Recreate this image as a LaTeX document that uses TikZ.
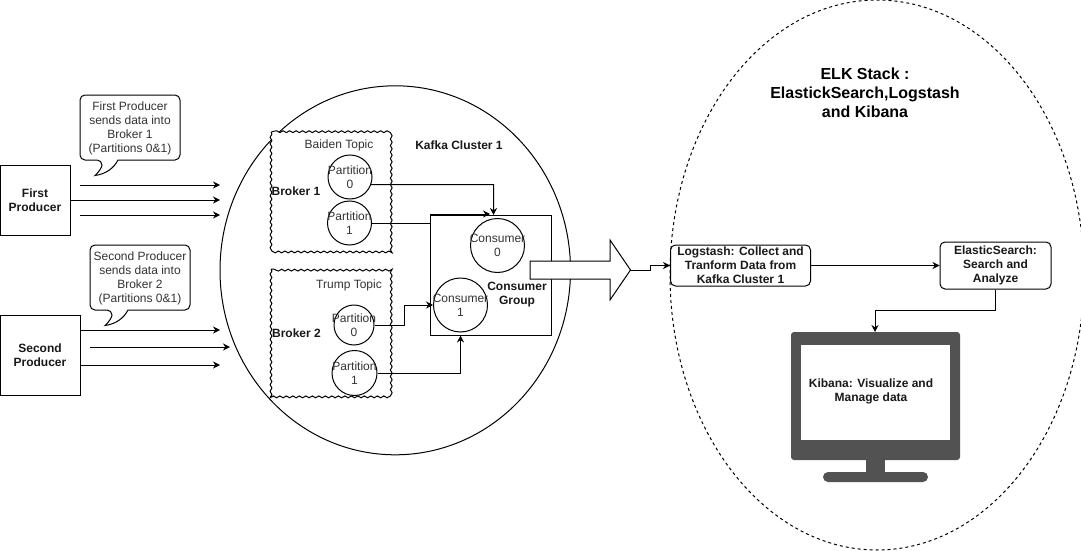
\documentclass[tikz,border=0pt]{standalone}
\usepackage{fontspec}
\setmainfont{Liberation Sans}
\usetikzlibrary{arrows.meta,decorations.pathmorphing,shapes.geometric}

\tikzset{
    >={Stealth[length=7pt,width=7pt]},
    lbl/.style={font=\fontsize{12}{14}\selectfont, align=center, text=black!80},
    boldlbl/.style={lbl, font=\fontsize{12}{14}\selectfont\bfseries, text=black!90},
    prodbox/.style={draw, line width=1pt, fill=white, boldlbl},
    stackbox/.style={draw, line width=1pt, fill=white, rounded corners=5pt, boldlbl},
    brokerbox/.style={draw, line width=1pt, fill=white, decorate, decoration={snake, amplitude=0.9pt, segment length=6.5pt}},
    partcircle/.style={draw, circle, line width=1pt, inner sep=0pt, fill=white},
    wire/.style={->, line width=1pt},
    talkshape/.style={draw, line width=1pt, fill=white},
}

\begin{document}
\begin{tikzpicture}[x=1pt, y=-1pt]
    \useasboundingbox[fill=white] (0,0) rectangle (1081,551);

    % Kafka cluster and ELK outlines
    \node[draw, ellipse, line width=1pt, minimum width=350.5pt, minimum height=369pt, inner sep=0pt] (cluster) at (395.25,270.3) {};
    \node[draw, ellipse, line width=1pt, dash pattern=on 3pt off 3pt, minimum width=414pt, minimum height=550pt, inner sep=0pt] (elk) at (877,275) {};
    \node[boldlbl] (clustertext) at (459,145.5) {Kafka Cluster 1};
    \node[boldlbl, font=\fontsize{16}{19}\selectfont\bfseries, text=black] (elktext) at (865,92.5) {ELK Stack :\\ElastickSearch,Logstash\\and Kibana};

    % Producers
    \node[prodbox, minimum width=70pt, minimum height=70pt, inner sep=0pt] (first) at (35,200) {First\\Producer};
    \node[prodbox, minimum width=80pt, minimum height=80pt, inner sep=0pt] (second) at (40,355) {Second\\Producer};

    % Producer arrows
    \coordinate (fa) at (80,185);
    \coordinate (fb) at (220,185);
    \coordinate (fc) at (220,200);
    \coordinate (fd) at (80,215);
    \coordinate (fe) at (220,215);
    \draw[wire] (fa) -- (fb);
    \draw[wire] (first.east) -- (fc);
    \draw[wire] (fd) -- (fe);
    \coordinate (sa) at (80,330);
    \coordinate (sb) at (220,330);
    \coordinate (sc) at (90,347);
    \coordinate (sd) at (230,347);
    \coordinate (se) at (220,365);
    \draw[wire] (sa) -- (sb);
    \draw[wire] (sc) -- (sd);
    \draw[wire] (second.east |- se) -- (se);

    % Speech bubbles
    \draw[talkshape, rounded corners=5pt] (118,160) -- (180,160) -- (180,95) -- (80,95) -- (80,160) -- (102,160)
        [sharp corners] .. controls (102,167) and (99,172) .. (95,175.5) .. controls (106,174) and (114,168) .. (118,160) -- cycle;
    \node[lbl] (firsttalk) at (130,128.5) {First Producer\\sends data into\\Broker 1\\(Partitions 0\&1)};
    \draw[talkshape, rounded corners=5pt] (128,310) -- (190,310) -- (190,245) -- (90,245) -- (90,310) -- (112,310)
        [sharp corners] .. controls (112,317) and (109,322) .. (105,325.5) .. controls (116,324) and (124,318) .. (128,310) -- cycle;
    \node[lbl] (secondtalk) at (140,278.5) {Second Producer\\sends data into\\Broker 2\\(Partitions 0\&1)};

    % Brokers
    \draw[brokerbox] (271,132) rectangle (390,251);
    \draw[brokerbox] (271,269) rectangle (390,397);
    \node[lbl] (baiden) at (339,145.5) {Baiden Topic};
    \node[lbl] (trump) at (349,285.5) {Trump Topic};
    \node[boldlbl] (brokerone) at (296,191.5) {Broker 1};
    \node[boldlbl] (brokertwo) at (296.5,333) {Broker 2};

    % Consumer group
    \node[draw, line width=1pt, minimum width=121pt, minimum height=120pt, inner sep=0pt] (group) at (490.5,275) {};
    \node[boldlbl] (grouptext) at (517,295) {Consumer\\Group};
    \node[partcircle, minimum size=54pt, label={[lbl]center:Consumer\\0}] (cons0) at (497.5,245.5) {};
    \node[partcircle, minimum size=54pt, label={[lbl]center:Consumer\\1}] (cons1) at (460.5,305) {};

    % Partitions
    \node[partcircle, minimum size=44pt, label={[lbl]center:Partition\\0}] (pa) at (350,177) {};
    \node[partcircle, minimum size=44pt, label={[lbl]center:Partition\\1}] (pb) at (349.5,223) {};
    \node[partcircle, minimum size=40pt, label={[lbl]center:Partition\\0}] (pc) at (354,325) {};
    \node[partcircle, minimum size=45pt, label={[lbl]center:Partition\\1}] (pd) at (354.5,373) {};

    % Partition to consumer wires
    \coordinate (gtop) at (493.5,215);
    \coordinate (gside) at (490,214);
    \coordinate (cside) at (433,305);
    \draw[wire] (pa.-20) -- (493.5,184.5) -- (gtop);
    \draw[wire] (pb.east) -- (430,223) -- (430,214) -- (gside);
    \draw[wire] (pc.east) -- (404,325) -- (404,305) -- (cside);
    \draw[wire] (pd.east) -| (group.south -| cons1);

    % Big arrow out of the cluster
    \draw[line width=1pt, fill=white] (530,261) -- (610,261) -- (610,240) -- (630.5,270) -- (610,300) -- (610,279) -- (530,279) -- cycle;
    \coordinate (bigtip) at (630.5,270);

    % ELK stack boxes
    \node[stackbox, minimum width=140pt, minimum height=41pt, inner sep=0pt] (logstash) at (740.5,265.5) {Logstash: Collect and\\Tranform Data from\\Kafka Cluster 1};
    \node[stackbox, minimum width=111pt, minimum height=47pt, inner sep=0pt] (elastic) at (995.5,265.5) {ElasticSearch:\\Search and\\Analyze};
    \draw[wire] (bigtip) -- (650,270) -- (650,265.5) -- (logstash.west);
    \draw[wire] (logstash.east) -- (elastic.west);

    % Kibana monitor
    \fill[fill=black!68, rounded corners=3pt] (791,332) rectangle (960,460);
    \fill[fill=black!68] (866,455) rectangle (885,475);
    \fill[fill=black!68, rounded corners=5pt] (823,472) rectangle (928,482);
    \fill[white] (801,345) rectangle (950,440);
    \coordinate (monitortop) at (875,332);
    \node[boldlbl] (kibana) at (871,391) {Kibana: Visualize and\\Manage data};
    \draw[wire] (elastic.south) -- (995.5,310) -- (875,310) -- (monitortop);
\end{tikzpicture}
\end{document}
